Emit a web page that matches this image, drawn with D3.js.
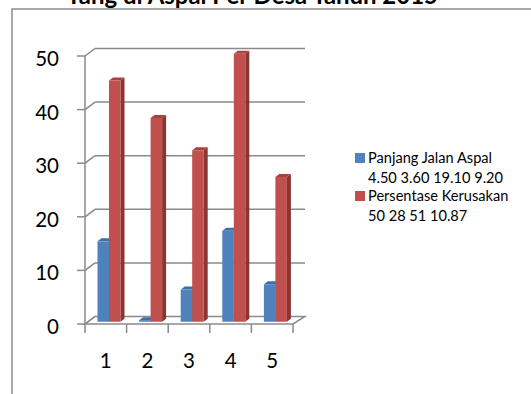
<!DOCTYPE html>
<html>
<head>
<meta charset="utf-8">
<script src="https://cdn.jsdelivr.net/npm/d3@7/dist/d3.min.js"></script>
<style>
  html, body { margin: 0; padding: 0; background: #fff; overflow: hidden; }
  svg { display: block; font-family: Lato, "Open Sans", sans-serif; }
</style>
</head>
<body>
<svg id="chart" width="531" height="394"></svg>
<script>
// Data
const categories = ["1", "2", "3", "4", "5"];
const seriesNames = ["Panjang Jalan Aspal", "Persentase Kerusakan"];
const legendLines = [
  ["Panjang Jalan Aspal", "4.50 3.60 19.10 9.20"],
  ["Persentase Kerusakan", "50 28 51 10.87"]
];
const panjangJalan = [15, 0.3, 6, 17, 7];
const persentaseKerusakan = [45, 38, 32, 50, 27];
const yTicks = [0, 10, 20, 30, 40, 50];
const titleText = "Yang di Aspal Per Desa Tahun 2015";

const values = [panjangJalan, persentaseKerusakan];
const colors = [
  { front: "#4F81BD", top: "#3F6EA8", side: "#365F92" },
  { front: "#C0504D", top: "#A9423F", side: "#8B3432" }
];

const svg = d3.select("#chart");

// Front-plane geometry of the 3D plot box
const plot = { left: 85, right: 293, top: 56, bottom: 324 };
const depth = { dx: 10, dy: -7.5 };

const x = d3.scaleBand().domain(categories).range([plot.left, plot.right]);
const y = d3.scaleLinear().domain([0, 50]).range([plot.bottom, plot.top]);
// position of the two series inside one category band
const xs = d3.scaleBand().domain(seriesNames).range([9.5, 32.5]);

// shift a front-plane point by a fraction t of the box depth
const proj = (px, py, t) => [px + depth.dx * t, py + depth.dy * t];

const gridColor = "#8a8a8a";

// outer chart frame (top and left visible)
svg.append("path")
  .attr("d", "M12,394 L12,9 L531,9")
  .attr("fill", "none").attr("stroke", "#8c8c8c").attr("stroke-width", 1.5);

// title, sized to span its line width
const title = svg.append("text")
  .attr("x", 252).attr("y", 4)
  .attr("text-anchor", "middle")
  .attr("font-weight", "bold").attr("font-size", 20)
  .attr("fill", "#000")
  .text(titleText);
const tw = title.node().getComputedTextLength();
if (tw > 0) title.attr("font-size", 20 * 372 / tw);

const g = svg.append("g");

// back-wall gridlines and side-wall diagonals
yTicks.forEach(v => {
  const [bx0, by] = proj(plot.left, y(v), 1);
  const [bx1] = proj(plot.right + 2, y(v), 1);
  if (v > 0) {
    g.append("line").attr("x1", bx0).attr("y1", by).attr("x2", bx1).attr("y2", by)
      .attr("stroke", gridColor).attr("stroke-width", 1.5);
  }
  g.append("line").attr("x1", plot.left).attr("y1", y(v)).attr("x2", bx0).attr("y2", by)
    .attr("stroke", gridColor).attr("stroke-width", 1.5);
  // tick marks on the front axis
  g.append("line").attr("x1", plot.left - 8).attr("y1", y(v)).attr("x2", plot.left).attr("y2", y(v))
    .attr("stroke", gridColor).attr("stroke-width", 1.5);
  // tick labels
  g.append("text")
    .attr("x", 59).attr("y", y(v) + 2)
    .attr("text-anchor", "end").attr("dominant-baseline", "central")
    .attr("font-size", 20.5).attr("fill", "#000")
    .text(v);
});

// floor outline
const fl = [
  [plot.left, y(0)],
  proj(plot.left, y(0), 1),
  proj(plot.right + 2, y(0), 1),
  [plot.right, y(0)]
];
g.append("path")
  .attr("d", d3.line()(fl) + "Z")
  .attr("fill", "none").attr("stroke", gridColor).attr("stroke-width", 1.5);

// front axis line
g.append("line").attr("x1", plot.left).attr("y1", plot.top).attr("x2", plot.left).attr("y2", plot.bottom)
  .attr("stroke", gridColor).attr("stroke-width", 1.5);

// category tick marks below the floor
const bounds = categories.map(c => x(c)).concat([plot.right]);
bounds.forEach(bx => {
  g.append("line").attr("x1", bx).attr("y1", plot.bottom).attr("x2", bx).attr("y2", plot.bottom + 9)
    .attr("stroke", gridColor).attr("stroke-width", 1.5);
});

// category labels
categories.forEach(c => {
  g.append("text")
    .attr("x", x(c) + x.bandwidth() / 2).attr("y", 360)
    .attr("text-anchor", "middle").attr("dominant-baseline", "central")
    .attr("font-size", 20.5).attr("fill", "#000")
    .text(c);
});

// 3D columns, placed between 30% and 70% of the box depth
const t0 = 0.3, t1 = 0.7;
const bars = g.append("g");
categories.forEach((c, i) => {
  seriesNames.forEach((s, k) => {
    const v = values[k][i];
    const xl = x(c) + xs(s), xr = xl + xs.bandwidth();
    const yb = y(0), yt = y(v);
    const a = proj(xl, yt, t0), b = proj(xr, yt, t0),
          cc = proj(xr, yb, t0), d = proj(xl, yb, t0);
    const a2 = proj(xl, yt, t1), b2 = proj(xr, yt, t1), c2 = proj(xr, yb, t1);
    const col = colors[k];
    // right side face
    bars.append("path").attr("d", d3.line()([b, b2, c2, cc]) + "Z").attr("fill", col.side);
    // top face
    bars.append("path").attr("d", d3.line()([a, a2, b2, b]) + "Z").attr("fill", col.top);
    // front face
    bars.append("path").attr("d", d3.line()([a, b, cc, d]) + "Z").attr("fill", col.front);
  });
});

// legend
const lg = svg.append("g");
legendLines.forEach((lines, k) => {
  const top = 153 + k * 38;
  lg.append("rect").attr("x", 355).attr("y", top).attr("width", 10).attr("height", 10)
    .attr("fill", colors[k].front);
  lines.forEach((ln, j) => {
    lg.append("text")
      .attr("x", 368).attr("y", top + 10 + j * 19.5)
      .attr("font-size", 14.6).attr("fill", "#000")
      .text(ln);
  });
});
</script>
</body>
</html>
